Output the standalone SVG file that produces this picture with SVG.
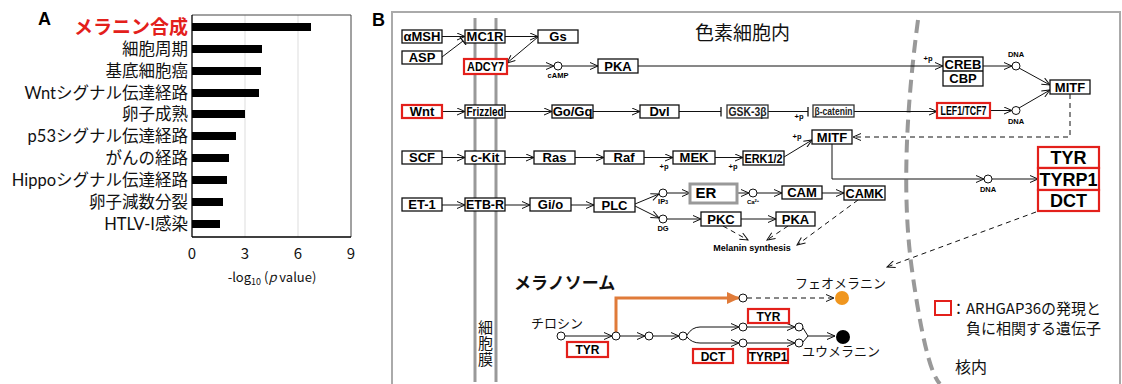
<svg xmlns="http://www.w3.org/2000/svg" width="1122" height="384" viewBox="0 0 1122 384">
<defs>
<style>
.jp{font-family:"Noto Sans CJK JP","Noto Sans",sans-serif}
.bar{fill:#000}
.alab{font-family:Lato,"Noto Sans CJK JP",sans-serif;font-size:16.5px;text-anchor:end;fill:#111}
.box{fill:#fff;stroke:#111;stroke-width:1.3}
.red{fill:#fff;stroke:#e3201b;stroke-width:2.2}
.t{font-family:"Liberation Sans",Arial,sans-serif;font-weight:bold;font-size:13px;text-anchor:middle;fill:#000}
.s{font-family:"Liberation Sans",Arial,sans-serif;font-weight:bold;font-size:7.5px;text-anchor:middle;fill:#000}
.ln{stroke:#111;stroke-width:1;fill:none}
.dash{stroke-dasharray:5 4}
.nd{fill:#fff;stroke:#111;stroke-width:1}
</style>
<marker id="a" markerWidth="10" markerHeight="8" refX="9" refY="4" orient="auto" markerUnits="userSpaceOnUse"><path d="M1,0.5 L9,4 L1,7.5" fill="none" stroke="#111" stroke-width="1"/></marker>
<marker id="t" markerWidth="4" markerHeight="10" refX="2" refY="5" orient="auto" markerUnits="userSpaceOnUse"><path d="M2,0 V10" stroke="#111" stroke-width="1.3"/></marker>
<marker id="o" markerWidth="14" markerHeight="12" refX="12" refY="6" orient="auto" markerUnits="userSpaceOnUse"><path d="M0,0 L13,6 L0,12 Z" fill="#e07b39"/></marker>
</defs>
<rect width="1122" height="384" fill="#fff"/>

<!-- Panel A -->
<g id="panelA">
<text x="38" y="25" font-family="Liberation Sans,Arial,sans-serif" font-weight="bold" font-size="18">A</text>
<line x1="245" y1="15" x2="245" y2="237" stroke="#ddd" stroke-width="1"/>
<line x1="298" y1="15" x2="298" y2="237" stroke="#ddd" stroke-width="1"/>
<line x1="192" y1="15" x2="351" y2="15" stroke="#444" stroke-width="1"/>
<line x1="351" y1="15" x2="351" y2="237" stroke="#444" stroke-width="1"/>
<line x1="192" y1="15" x2="192" y2="237" stroke="#000" stroke-width="1.3"/>
<line x1="192" y1="237" x2="351" y2="237" stroke="#000" stroke-width="1.3"/>
<rect class="bar" x="192" y="23" width="119" height="8"/>
<rect class="bar" x="192" y="45" width="70" height="8"/>
<rect class="bar" x="192" y="67" width="69" height="8"/>
<rect class="bar" x="192" y="89" width="67" height="8"/>
<rect class="bar" x="192" y="110" width="53" height="8"/>
<rect class="bar" x="192" y="132" width="44" height="8"/>
<rect class="bar" x="192" y="154" width="37" height="8"/>
<rect class="bar" x="192" y="176" width="35" height="8"/>
<rect class="bar" x="192" y="198" width="31" height="8"/>
<rect class="bar" x="192" y="220" width="28" height="8"/>
<text class="alab" x="188" y="34" style="fill:#e3201b;font-size:19px;font-weight:bold">メラニン合成</text>
<text class="alab" x="188" y="55">細胞周期</text>
<text class="alab" x="188" y="77">基底細胞癌</text>
<text class="alab" x="188" y="99">Wntシグナル伝達経路</text>
<text class="alab" x="188" y="120">卵子成熟</text>
<text class="alab" x="188" y="142">p53シグナル伝達経路</text>
<text class="alab" x="188" y="164">がんの経路</text>
<text class="alab" x="188" y="186">Hippoシグナル伝達経路</text>
<text class="alab" x="188" y="208">卵子減数分裂</text>
<text class="alab" x="188" y="230">HTLV-I感染</text>
<g class="jp" font-size="15" text-anchor="middle" fill="#111">
<text x="192" y="259">0</text><text x="245" y="259">3</text><text x="298" y="259">6</text><text x="351" y="259">9</text>
</g>
<text class="jp" x="272" y="282" font-size="13" text-anchor="middle" fill="#111">-log<tspan font-size="9" dy="3">10</tspan><tspan dy="-3"> (</tspan><tspan font-style="italic">p</tspan> value)</text>
</g>

<!-- Panel B frame -->
<g id="frame">
<text x="372" y="26" font-family="Liberation Sans,Arial,sans-serif" font-weight="bold" font-size="18">B</text>
<rect x="392" y="12" width="728" height="380" fill="none" stroke="#aaa" stroke-width="2"/>
<text class="jp" x="695" y="40" font-size="19" fill="#111">色素細胞内</text>
<line x1="475" y1="18" x2="475" y2="382" stroke="#999" stroke-width="3"/>
<line x1="496" y1="18" x2="496" y2="382" stroke="#999" stroke-width="3"/>
<text class="jp" x="485.5" y="320" font-size="15" fill="#111" writing-mode="vertical-rl" letter-spacing="1">細胞膜</text>
<path d="M918,20 Q898,170 912,270 T940,384" fill="none" stroke="#999" stroke-width="4" stroke-dasharray="13 7"/>
<text class="jp" x="955" y="373" font-size="16" fill="#111">核内</text>
</g>

<!-- Connectors -->
<g id="connectors">
<line class="ln" x1="442" y1="36.5" x2="465" y2="36.5" marker-end="url(#a)"/>
<line class="ln" x1="442" y1="57" x2="463" y2="41" marker-end="url(#t)"/>
<line class="ln" x1="505" y1="36.5" x2="538" y2="36.5" marker-end="url(#a)"/>
<line class="ln" x1="538" y1="37" x2="507" y2="63" marker-end="url(#a)"/>
<line class="ln" x1="507" y1="66" x2="554" y2="66" marker-end="url(#a)"/>
<line class="ln" x1="562" y1="66" x2="598" y2="66" marker-end="url(#a)"/>
<line class="ln" x1="638" y1="66" x2="943" y2="66" marker-end="url(#a)"/>
<line class="ln" x1="983" y1="66" x2="1012" y2="66" marker-end="url(#a)"/>
<line class="ln" x1="1019" y1="68" x2="1050" y2="85" marker-end="url(#a)"/>

<line class="ln" x1="442" y1="111.5" x2="465" y2="111.5" marker-end="url(#a)"/>
<line class="ln" x1="505" y1="111.5" x2="552" y2="111.5" marker-end="url(#a)"/>
<line class="ln" x1="593" y1="111.5" x2="640" y2="111.5" marker-end="url(#a)"/>
<line class="ln" x1="679" y1="111.5" x2="721" y2="111.5" marker-end="url(#t)"/>
<line class="ln" x1="768" y1="111.5" x2="808" y2="111.5" marker-end="url(#t)"/>
<line class="ln" x1="854" y1="111.5" x2="937" y2="111.5" marker-end="url(#a)"/>
<line class="ln" x1="990" y1="110.5" x2="1012" y2="110.5" marker-end="url(#a)"/>
<line class="ln" x1="1019" y1="108" x2="1050" y2="90" marker-end="url(#a)"/>
<path class="ln dash" d="M1070,94 V137 H853" marker-end="url(#a)" stroke-width="1.3"/>

<line class="ln" x1="442" y1="157.5" x2="465" y2="157.5" marker-end="url(#a)"/>
<line class="ln" x1="505" y1="157.5" x2="534" y2="157.5" marker-end="url(#a)"/>
<line class="ln" x1="575" y1="157.5" x2="604" y2="157.5" marker-end="url(#a)"/>
<line class="ln" x1="644" y1="157.5" x2="673" y2="157.5" marker-end="url(#a)"/>
<line class="ln" x1="715" y1="157.5" x2="743" y2="157.5" marker-end="url(#a)"/>
<line class="ln" x1="784" y1="157" x2="812" y2="140" marker-end="url(#a)"/>
<path class="ln" d="M832,144 V179 H984" marker-end="url(#a)"/>
<line class="ln" x1="992" y1="179" x2="1038" y2="179" marker-end="url(#a)"/>
<line class="ln dash" x1="1036" y1="212" x2="887" y2="267" marker-end="url(#a)" stroke-width="1.3"/>

<line class="ln" x1="442" y1="205" x2="465" y2="205" marker-end="url(#a)"/>
<line class="ln" x1="505" y1="205" x2="530" y2="205" marker-end="url(#a)"/>
<line class="ln" x1="571" y1="205" x2="594" y2="205" marker-end="url(#a)"/>
<line class="ln" x1="635" y1="204" x2="659" y2="194" marker-end="url(#a)"/>
<line class="ln" x1="635" y1="206" x2="659" y2="218" marker-end="url(#a)"/>
<line class="ln" x1="667" y1="193" x2="690" y2="193" marker-end="url(#a)"/>
<line class="ln" x1="721" y1="193" x2="749" y2="193" marker-end="url(#a)"/>
<line class="ln" x1="757" y1="193" x2="782" y2="193" marker-end="url(#a)"/>
<line class="ln" x1="822" y1="193" x2="844" y2="193" marker-end="url(#a)"/>
<line class="ln" x1="667" y1="219" x2="701" y2="219" marker-end="url(#a)"/>
<line class="ln" x1="741" y1="219" x2="776" y2="219" marker-end="url(#a)"/>
<line class="ln dash" x1="723" y1="226" x2="748" y2="240" marker-end="url(#a)"/>
<line class="ln dash" x1="788" y1="226" x2="767" y2="240" marker-end="url(#a)"/>
<line class="ln dash" x1="858" y1="200" x2="797" y2="245" marker-end="url(#a)"/>

<line class="ln" x1="565" y1="336" x2="612" y2="336" marker-end="url(#a)"/>
<line class="ln" x1="620" y1="336" x2="645" y2="336" marker-end="url(#a)"/>
<line class="ln" x1="653" y1="336" x2="679" y2="336" marker-end="url(#a)"/>
<path class="ln" d="M687,335 Q692,327 700,327 H739" marker-end="url(#a)"/>
<path class="ln" d="M687,337 Q692,343 700,343 H739" marker-end="url(#a)"/>
<line class="ln" x1="747" y1="327" x2="795" y2="327" marker-end="url(#a)"/>
<line class="ln" x1="747" y1="343" x2="795" y2="343" marker-end="url(#a)"/>
<path class="ln" d="M803,328 L808,336 L803,342 M808,336 H835" marker-end="url(#a)"/>
<path d="M616,332 V298 H739" fill="none" stroke="#e07b39" stroke-width="3" marker-end="url(#o)"/>
<line class="ln dash" x1="747" y1="298" x2="834" y2="298" marker-end="url(#a)"/>
</g>

<!-- Row 1 -->
<g id="aMSH"><rect class="box" x="402" y="30" width="40" height="13"/><text class="t" x="422" y="41">αMSH</text></g>
<g id="ASP"><rect class="box" x="402" y="51" width="40" height="13"/><text class="t" x="422" y="62">ASP</text></g>
<g id="MC1R"><rect class="box" x="465" y="30" width="40" height="13"/><text class="t" x="485" y="41">MC1R</text></g>
<g id="Gs"><rect class="box" x="538" y="30" width="40" height="13"/><text class="t" x="558" y="41">Gs</text></g>
<g id="ADCY7"><rect class="red" x="464" y="59" width="43" height="15"/><text class="t" x="485.5" y="71" textLength="37" lengthAdjust="spacingAndGlyphs" style="font-size:12px">ADCY7</text></g>
<g id="cAMP"><circle class="nd" cx="558" cy="66" r="4"/><text class="s" x="558" y="78">cAMP</text></g>
<g id="PKA1"><rect class="box" x="598" y="59" width="40" height="14"/><text class="t" x="618" y="71">PKA</text></g>
<g id="CREB"><rect class="box" x="943" y="57" width="40" height="29"/><line x1="943" y1="71" x2="983" y2="71" stroke="#111" stroke-width="1.3"/><text class="t" x="963" y="69">CREB</text><text class="t" x="963" y="83">CBP</text><text class="s" x="928" y="61">+p</text></g>
<g id="DNA1"><circle class="nd" cx="1016" cy="66" r="4"/><text class="s" x="1016" y="57">DNA</text></g>
<g id="MITF1"><rect class="box" x="1050" y="80" width="40" height="14"/><text class="t" x="1070" y="92">MITF</text></g>

<!-- Row 2 -->
<g id="Wnt"><rect class="red" x="402" y="105" width="40" height="13"/><text class="t" x="422" y="116">Wnt</text></g>
<g id="Frizzled"><rect class="box" x="465" y="105" width="40" height="13"/><text class="t" x="485" y="116" textLength="37" lengthAdjust="spacingAndGlyphs" style="font-size:12px">Frizzled</text></g>
<g id="GoGq"><rect class="box" x="552" y="105" width="41" height="13"/><text class="t" x="572.5" y="116">Go/Gq</text></g>
<g id="Dvl"><rect class="box" x="640" y="105" width="39" height="13"/><text class="t" x="659.5" y="116">Dvl</text></g>
<g id="GSK3b"><rect class="box" x="727" y="105" width="41" height="13" style="stroke:#333"/><text class="t" x="747.5" y="116" textLength="38" lengthAdjust="spacingAndGlyphs" style="font-size:12px;fill:#222">GSK-3β</text></g>
<g id="bcatenin"><rect class="box" x="813" y="105" width="41" height="12" style="stroke:#333"/><text class="t" x="833.5" y="115" textLength="38" lengthAdjust="spacingAndGlyphs" style="font-size:11px;fill:#222">β-catenin</text><text class="s" x="799" y="119">+p</text></g>
<g id="LEF1"><rect class="red" x="937" y="103" width="53" height="15"/><text class="t" x="963.5" y="115" textLength="46" lengthAdjust="spacingAndGlyphs" style="font-size:12px">LEF1/TCF7</text></g>
<g id="DNA2"><circle class="nd" cx="1016" cy="110.5" r="4"/><text class="s" x="1016" y="124">DNA</text></g>

<!-- Row 3 -->
<g id="SCF"><rect class="box" x="402" y="151" width="40" height="13"/><text class="t" x="422" y="162">SCF</text></g>
<g id="cKit"><rect class="box" x="465" y="151" width="40" height="13"/><text class="t" x="485" y="162">c-Kit</text></g>
<g id="Ras"><rect class="box" x="534" y="151" width="41" height="13"/><text class="t" x="554.5" y="162">Ras</text></g>
<g id="Raf"><rect class="box" x="604" y="151" width="40" height="13"/><text class="t" x="624" y="162">Raf</text></g>
<g id="MEK"><rect class="box" x="673" y="151" width="42" height="13"/><text class="t" x="694" y="162">MEK</text><text class="s" x="664" y="169">+p</text></g>
<g id="ERK"><rect class="box" x="743" y="151" width="41" height="14"/><text class="t" x="763.5" y="162.5" textLength="38" lengthAdjust="spacingAndGlyphs" style="font-size:12px">ERK1/2</text><text class="s" x="733" y="169">+p</text></g>
<g id="MITF2"><rect class="box" x="812" y="130" width="40" height="14"/><text class="t" x="832" y="142">MITF</text><text class="s" x="797" y="139">+p</text></g>
<g id="DNA3"><circle class="nd" cx="988" cy="179" r="4"/><text class="s" x="988" y="192">DNA</text></g>
<g id="TYRgroup">
<rect class="red" x="1038" y="147" width="61" height="21"/><text class="t" x="1068.5" y="164" style="font-size:18px">TYR</text>
<rect class="red" x="1038" y="168" width="61" height="22"/><text class="t" x="1068.5" y="186" style="font-size:18px">TYRP1</text>
<rect class="red" x="1038" y="190" width="61" height="21"/><text class="t" x="1068.5" y="207" style="font-size:18px">DCT</text>
</g>

<!-- Row 4 -->
<g id="ET1"><rect class="box" x="402" y="198" width="40" height="13"/><text class="t" x="422" y="209">ET-1</text></g>
<g id="ETBR"><rect class="box" x="465" y="198" width="40" height="13"/><text class="t" x="485" y="209" textLength="38" lengthAdjust="spacingAndGlyphs">ETB-R</text></g>
<g id="Gio"><rect class="box" x="530" y="198" width="41" height="13"/><text class="t" x="550.5" y="209">Gi/o</text></g>
<g id="PLC"><rect class="box" x="594" y="198" width="41" height="14"/><text class="t" x="614.5" y="210">PLC</text></g>
<g id="IP3"><circle class="nd" cx="663" cy="193" r="4"/><text class="s" x="663" y="204">IP<tspan font-size="5">3</tspan></text></g>
<g id="DG"><circle class="nd" cx="663" cy="219" r="4"/><text class="s" x="663" y="231">DG</text></g>
<g id="ER"><rect x="690" y="184" width="47" height="19" fill="#fff" stroke="#999" stroke-width="3"/><text class="t" x="706" y="198" style="font-size:15px">ER</text></g>
<g id="Ca"><circle class="nd" cx="753" cy="193" r="4"/><text class="s" x="753" y="204" style="font-size:6px">Ca<tspan font-size="4" dy="-2">2+</tspan></text></g>
<g id="CAM"><rect class="box" x="782" y="186" width="40" height="13"/><text class="t" x="802" y="197">CAM</text></g>
<g id="CAMK"><rect class="box" x="844" y="186" width="41" height="14"/><text class="t" x="864.5" y="197.5" textLength="38" lengthAdjust="spacingAndGlyphs">CAMK</text></g>
<g id="PKC"><rect class="box" x="701" y="212" width="40" height="14"/><text class="t" x="721" y="224">PKC</text></g>
<g id="PKA2"><rect class="box" x="776" y="212" width="39" height="14"/><text class="t" x="795.5" y="224">PKA</text></g>
<g id="melanin"><text class="t" x="752" y="251" style="font-size:9px">Melanin synthesis</text></g>

<!-- Melanosome -->
<g id="melanosome">
<text class="jp" x="514" y="289" font-size="17" font-weight="bold" fill="#111">メラノソーム</text>
<text class="jp" x="531" y="328" font-size="13" fill="#111">チロシン</text>
<circle class="nd" cx="561" cy="336" r="4"/>
<circle class="nd" cx="616" cy="336" r="4"/>
<circle class="nd" cx="649" cy="336" r="4"/>
<circle class="nd" cx="683" cy="336" r="4"/>
<circle class="nd" cx="743" cy="327" r="4"/>
<circle class="nd" cx="743" cy="343" r="4"/>
<circle class="nd" cx="799" cy="327" r="4"/>
<circle class="nd" cx="799" cy="343" r="4"/>
<circle class="nd" cx="743" cy="298" r="4"/>
<circle cx="843" cy="337" r="7" fill="#000"/>
<circle cx="842" cy="298" r="7" fill="#f0961e"/>
<text class="jp" x="795" y="288" font-size="13" fill="#111">フェオメラニン</text>
<text class="jp" x="802" y="356" font-size="13" fill="#111">ユウメラニン</text>
</g>
<g id="mTYR1"><rect class="red" x="567" y="342" width="41" height="15"/><text class="t" x="587.5" y="354" style="font-size:12px">TYR</text></g>
<g id="mTYR2"><rect class="red" x="748" y="309" width="41" height="14"/><text class="t" x="768.5" y="320.5" style="font-size:12px">TYR</text></g>
<g id="mDCT"><rect class="red" x="693" y="349" width="40" height="14"/><text class="t" x="713" y="360.5" style="font-size:12px">DCT</text></g>
<g id="mTYRP1"><rect class="red" x="748" y="349" width="40" height="14"/><text class="t" x="768" y="360.5" style="font-size:12px">TYRP1</text></g>

<!-- Legend -->
<g id="legend">
<rect x="935" y="301" width="16" height="14" fill="none" stroke="#e3201b" stroke-width="2"/>
<text class="jp" x="951" y="314" font-size="15" fill="#111">：ARHGAP36の発現と</text>
<text class="jp" x="966" y="334" font-size="15" fill="#111">負に相関する遺伝子</text>
</g>
</svg>
